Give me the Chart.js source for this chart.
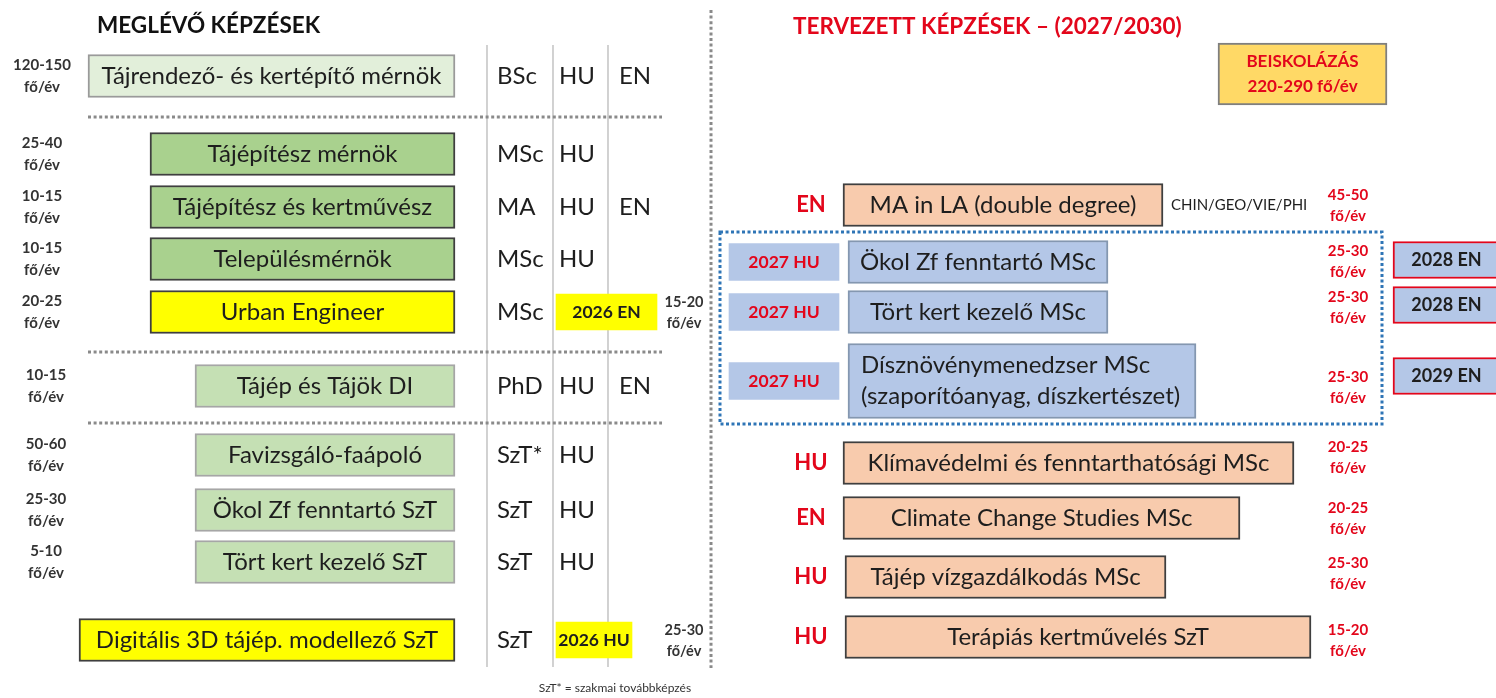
<!DOCTYPE html>
<html><head><meta charset="utf-8">
<script src="https://cdn.jsdelivr.net/npm/chart.js@4/dist/chart.umd.min.js"></script>
<style>html,body{margin:0;padding:0;background:#fff}#wrap{width:1496px;height:698px;position:relative}</style>
</head><body><div id="wrap"><canvas id="c"></canvas></div>
<script>
// ---------------- DATA ----------------
// Existing programmes (left)
const leftTitle = 'MEGLÉVŐ KÉPZÉSEK';
const leftPrograms = ['Tájrendező- és kertépítő mérnök','Tájépítész mérnök','Tájépítész és kertművész','Településmérnök','Urban Engineer','Tájép és Tájök DI','Favizsgáló-faápoló','Ökol Zf fenntartó SzT','Tört kert kezelő SzT','Digitális 3D tájép. modellező SzT'];
const leftIntake = ['120-150','25-40','10-15','10-15','20-25','10-15','50-60','25-30','5-10',''];
const leftDegree = ['BSc','MSc','MA','MSc','MSc','PhD','SzT*','SzT','SzT','SzT'];
const leftHU = ['HU','HU','HU','HU','','HU','HU','HU','HU',''];
const leftEN = ['EN','','EN','','','EN','','','',''];
const leftNew = ['','','','','2026 EN','','','','','2026 HU'];
const leftNewIntake = ['','','','','15-20','','','','','25-30'];
const leftRow = [76,154,207,259,312,386,455,510,562,640];
const leftSpanStart = [88,150,150,150,150,195,195,195,195,79];
const leftSpanEnd = [455,455,455,455,455,455,455,455,455,455];
const leftNewSpanEnd = [null,null,null,null,657,null,null,null,null,632];
const footnote = 'SzT* = szakmai továbbképzés';

// Planned programmes (right)
const rightTitle = 'TERVEZETT KÉPZÉSEK – (2027/2030)';
const rightPrograms = ['MA in LA (double degree)','Ökol Zf fenntartó MSc','Tört kert kezelő MSc','Dísznövénymenedzser MSc\n(szaporítóanyag, díszkertészet)','Klímavédelmi és fenntarthatósági MSc','Climate Change Studies MSc','Tájép vízgazdálkodás MSc','Terápiás kertművelés SzT'];
const rightLang = ['EN','2027 HU','2027 HU','2027 HU','HU','EN','HU','HU'];
const rightIntake = ['45-50','25-30','25-30','25-30','20-25','20-25','25-30','15-20'];
const rightLater = ['','2028 EN','2028 EN','2029 EN','','','',''];
const rightNote = ['CHIN/GEO/VIE/PHI','','','','','','',''];
const rightRow = [205,262,312,381,463,518,577,637];
const rightIntakeRow = [205,261,307,387,457,518,573,640];
const rightLaterRow = [null,260,305,376,null,null,null,null];
const rightSpanStart = [843,848,848,848,843,843,845,845];
const rightSpanEnd = [1163,1108,1108,1196,1294,1240,1166,1311];
const totalLabel = 'BEISKOLÁZÁS';
const totalIntake = '220-290';
const unit = 'fő/év';

// ---------------- STYLE / LAYOUT ----------------
const FONT = 'Lato, "Open Sans", sans-serif';
const RED = '#e3061b';
const INK = '#1e1e1e';
const fill = { pale:'#e2efda', mid:'#a9d18e', soft:'#c5e0b4', yellow:'#ffff00', salmon:'#f8cbad', blue:'#b4c7e7', gold:'#ffd966' };
const edge = { pale:'#9a9a9a', mid:'#3f3f3f', soft:'#a6a6a6', yellow:'#3f3f3f', salmon:'#3f3f3f', blue:'#8497b0', gold:'#7f7f7f' };
function leftKind(i){ if(leftNew[i]) return 'yellow'; if(leftDegree[i]==='BSc') return 'pale'; if(leftDegree[i]==='MSc'||leftDegree[i]==='MA') return 'mid'; return 'soft'; }
function rightKind(i){ return /^\d/.test(rightLang[i]) ? 'blue' : 'salmon'; }
const isYear = s => /^\d/.test(s);

const LAY = { intakeX:42, degX:497, huX:559, enX:619, newStart:556, newIntakeX:684,
  colLines:[487,553,608], colTop:45, colBot:667, sepX:711, sepTop:10, sepBot:668,
  hDots:[117,352,423], hDotStart:88, hDotEnd:662,
  langX:811, yearStart:729, yearEnd:839, laterStart:1393, laterEnd:1500, rIntakeX:1348,
  group:[720,232,1382,424], total:[1218,1387,74], noteX:1171 };

// ---------------- DATASETS ----------------
const leftIdx = leftPrograms.map((_,i)=>i);
const rightSingle = rightPrograms.map((_,i)=>i).filter(i=>!rightPrograms[i].includes('\n'));
const rightDouble = rightPrograms.map((_,i)=>i).filter(i=>rightPrograms[i].includes('\n'));
const newIdx = leftIdx.filter(i=>leftNew[i]);
const yearIdx = rightLang.map((_,i)=>i).filter(i=>isYear(rightLang[i]));
const laterIdx = rightLater.map((_,i)=>i).filter(i=>rightLater[i]);

const common = { grouped:false, borderSkipped:false, borderWidth:2 };
const datasets = [
  Object.assign({}, common, { barThickness:43,
    data: leftIdx.map(i=>({x:[leftSpanStart[i],leftSpanEnd[i]], y:leftRow[i]})),
    backgroundColor: c=>fill[leftKind(c.dataIndex)], borderColor: c=>edge[leftKind(c.dataIndex)],
    labels: leftIdx.map(i=>leftPrograms[i]) }),
  Object.assign({}, common, { barThickness:36, borderWidth:0,
    data: newIdx.map(i=>({x:[LAY.newStart,leftNewSpanEnd[i]], y:leftRow[i]})),
    backgroundColor: fill.yellow, labels: newIdx.map(i=>leftNew[i]), bold:true, small:17.5 }),
  Object.assign({}, common, { barThickness:43,
    data: rightSingle.map(i=>({x:[rightSpanStart[i],rightSpanEnd[i]], y:rightRow[i]})),
    backgroundColor: c=>fill[rightKind(rightSingle[c.dataIndex])], borderColor: c=>edge[rightKind(rightSingle[c.dataIndex])],
    labels: rightSingle.map(i=>rightPrograms[i]) }),
  Object.assign({}, common, { barThickness:75,
    data: rightDouble.map(i=>({x:[rightSpanStart[i],rightSpanEnd[i]], y:rightRow[i]})),
    backgroundColor: c=>fill[rightKind(rightDouble[c.dataIndex])], borderColor: c=>edge[rightKind(rightDouble[c.dataIndex])],
    labels: rightDouble.map(i=>rightPrograms[i]), leftAlign:true }),
  Object.assign({}, common, { barThickness:37, borderWidth:0,
    data: yearIdx.map(i=>({x:[LAY.yearStart,LAY.yearEnd], y:rightRow[i]})),
    backgroundColor: fill.blue, labels: yearIdx.map(i=>rightLang[i]), bold:true, small:17.5, color:RED }),
  Object.assign({}, common, { barThickness:37,
    data: laterIdx.map(i=>({x:[LAY.laterStart,LAY.laterEnd], y:rightLaterRow[i]})),
    backgroundColor: fill.blue, borderColor: '#e3061b', labels: laterIdx.map(i=>rightLater[i]), bold:true, small:18 }),
  Object.assign({}, common, { barThickness:62,
    data: [{x:[LAY.total[0],LAY.total[1]], y:LAY.total[2]}],
    backgroundColor: fill.gold, borderColor: edge.gold, labels: [totalLabel+'\n'+totalIntake+' '+unit], bold:true, small:17, color:RED })
];

// ---------------- PLUGIN ----------------
function T(ctx, s, x, y, font, color, align){ ctx.font=font; ctx.fillStyle=color; ctx.textAlign=align||'center'; ctx.textBaseline='middle'; ctx.fillText(s,x,y); }
function dotted(ctx, x1,y1,x2,y2,color,w,dash){ ctx.save(); ctx.strokeStyle=color; ctx.lineWidth=w; ctx.setLineDash(dash); ctx.beginPath(); ctx.moveTo(x1,y1); ctx.lineTo(x2,y2); ctx.stroke(); ctx.restore(); }

const diagram = {
  id:'diagram',
  beforeDatasetsDraw(chart){
    const {ctx, scales:{x,y}} = chart;
    const X=v=>x.getPixelForValue(v), Y=v=>y.getPixelForValue(v);
    ctx.save();
    ctx.strokeStyle='#cdcdcd'; ctx.lineWidth=1.8;
    LAY.colLines.forEach(cx=>{ ctx.beginPath(); ctx.moveTo(X(cx),Y(LAY.colTop)); ctx.lineTo(X(cx),Y(LAY.colBot)); ctx.stroke(); });
    LAY.hDots.forEach(hy=>dotted(ctx, X(LAY.hDotStart),Y(hy),X(LAY.hDotEnd),Y(hy),'#8a8a8a',3,[3,2.6]));
    dotted(ctx, X(LAY.sepX),Y(LAY.sepTop),X(LAY.sepX),Y(LAY.sepBot),'#8a8a8a',3,[3,2.6]);
    const g=LAY.group; ctx.strokeStyle='#2e75b6'; ctx.lineWidth=3; ctx.setLineDash([3,2.5]);
    ctx.strokeRect(X(g[0]),Y(g[1]),X(g[2])-X(g[0]),Y(g[3])-Y(g[1]));
    ctx.restore();
  },
  afterDatasetsDraw(chart){
    const {ctx, scales:{x,y}} = chart;
    const X=v=>x.getPixelForValue(v), Y=v=>y.getPixelForValue(v);
    ctx.save();
    chart.data.datasets.forEach((ds,di)=>{
      const meta = chart.getDatasetMeta(di);
      meta.data.forEach((el,k)=>{
        const p = el.getProps(['x','y','base'],true);
        const lines = ds.labels[k].split('\n');
        const size = ds.small||24;
        const font = (ds.bold?'bold ':'')+size+'px '+FONT;
        const lh = ds.small?25:31;
        lines.forEach((ln,j)=>{
          const yy = p.y + (j-(lines.length-1)/2)*lh;
          if(ds.leftAlign) T(ctx, ln, Math.min(p.x,p.base)+13, yy, font, ds.color||INK, 'left');
          else T(ctx, ln, (p.x+p.base)/2, yy, font, ds.color||INK);
        });
      });
    });
    T(ctx, leftTitle, X(97), Y(26), 'bold 22.5px '+FONT, '#111', 'left');
    T(ctx, rightTitle, X(793), Y(27), 'bold 22.5px '+FONT, RED, 'left');
    leftPrograms.forEach((_,i)=>{
      const ry = leftRow[i];
      const ix = LAY.intakeX+(i>=5?4:0);
      if(leftIntake[i]){
        T(ctx, leftIntake[i], X(ix), Y(ry-11), 'bold 15px '+FONT, '#333');
        T(ctx, unit, X(ix), Y(ry+11), 'bold 15px '+FONT, '#333');
      }
      T(ctx, leftDegree[i], X(LAY.degX), Y(ry), '24px '+FONT, INK, 'left');
      if(leftHU[i]) T(ctx, leftHU[i], X(LAY.huX), Y(ry), '24px '+FONT, INK, 'left');
      if(leftEN[i]) T(ctx, leftEN[i], X(LAY.enX), Y(ry), '24px '+FONT, INK, 'left');
      if(leftNewIntake[i]){
        T(ctx, leftNewIntake[i], X(LAY.newIntakeX), Y(ry-10), 'bold 14.5px '+FONT, '#333');
        T(ctx, unit, X(LAY.newIntakeX), Y(ry+11), 'bold 14.5px '+FONT, '#333');
      }
    });
    T(ctx, footnote, X(615), Y(688), '12px '+FONT, '#333');
    rightPrograms.forEach((_,i)=>{
      if(!isYear(rightLang[i])) T(ctx, rightLang[i], X(LAY.langX), Y(rightRow[i]), 'bold 22px '+FONT, RED);
      T(ctx, rightIntake[i], X(LAY.rIntakeX), Y(rightIntakeRow[i]-10), 'bold 15px '+FONT, RED);
      T(ctx, unit, X(LAY.rIntakeX), Y(rightIntakeRow[i]+11), 'bold 15px '+FONT, RED);
      if(rightNote[i]) T(ctx, rightNote[i], X(LAY.noteX), Y(rightRow[i]), '15px '+FONT, INK, 'left');
    });
    ctx.restore();
  }
};

new Chart(document.getElementById('c'), {
  type:'bar',
  data:{ datasets },
  options:{
    indexAxis:'y', responsive:true, maintainAspectRatio:false, animation:false,
    layout:{ padding:0 },
    scales:{
      x:{ type:'linear', min:0, max:1496, offset:false, display:false },
      y:{ type:'linear', min:0, max:698, reverse:true, offset:false, display:false }
    },
    plugins:{ legend:{display:false}, tooltip:{enabled:false} }
  },
  plugins:[diagram]
});
</script></body></html>
